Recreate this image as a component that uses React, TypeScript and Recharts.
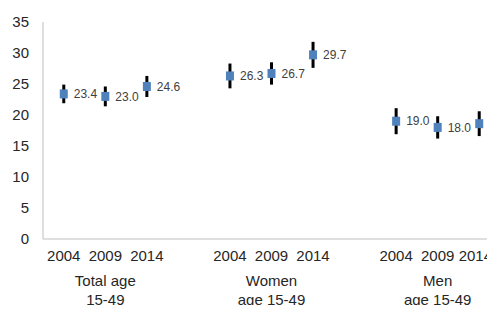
import { LineChart, Line, XAxis, YAxis, ErrorBar, LabelList } from 'recharts';

const years = ['2004', '2009', '2014', '', '2004', '2009', '2014', '', '2004', '2009', '2014'];
const values = [23.4, 23.0, 24.6, null, 26.3, 26.7, 29.7, null, 19.0, 18.0, 18.6];
const errors = [1.5, 1.6, 1.7, null, 2.0, 1.8, 2.1, null, 2.1, 1.8, 2.0];
const groupLabels: Record<number, string[]> = {
  1: ['Total age', '15-49'],
  5: ['Women', 'age 15-49'],
  9: ['Men', 'age 15-49'],
};
const yTicks = [0, 5, 10, 15, 20, 25, 30, 35];

const data = years.map((y, i) => ({ slot: i, year: y, value: values[i], err: errors[i] }));

const Square = (props: any) => {
  const { cx, cy, payload } = props;
  if (payload.value == null || cx == null || cy == null) return null;
  return <rect x={cx - 4} y={cy - 4.5} width={8} height={9} fill="#4F81BD" />;
};

const XTick = (props: any) => {
  const { x, y, payload } = props;
  const i = payload.value;
  const group = groupLabels[i];
  // keep the last year inside the picture, like the original does
  const tooFar = x + 17 > 490;
  return (
    <g>
      <text
        x={tooFar ? 492 : x}
        y={y + 14}
        textAnchor={tooFar ? 'end' : 'middle'}
        fontSize={15}
        fill="#262626"
      >
        {years[i]}
      </text>
      {group && (
        <text textAnchor="middle" fontSize={15} fill="#262626">
          <tspan x={x} y={y + 39}>{group[0]}</tspan>
          <tspan x={x} y={y + 58}>{group[1]}</tspan>
        </text>
      )}
    </g>
  );
};

export default function App() {
  return (
    <div style={{ width: 495, height: 313, overflow: 'hidden', margin: -8, background: '#fff', fontFamily: 'Liberation Sans, Arial, sans-serif' }}>
      <LineChart width={500} height={313} data={data} margin={{ top: 22, right: 0, bottom: 0, left: 0 }}>
        <XAxis
          dataKey="slot"
          type="category"
          scale="band"
          tick={<XTick />}
          tickLine={false}
          axisLine={{ stroke: '#bfbfbf' }}
          height={74}
          interval={0}
        />
        <YAxis
          domain={[0, 35]}
          ticks={yTicks}
          width={43}
          tickLine={false}
          tickMargin={8}
          axisLine={{ stroke: '#bfbfbf' }}
          tick={{ fill: '#262626', fontSize: 15 }}
        />
        <Line dataKey="value" stroke="none" dot={<Square />} activeDot={false} isAnimationActive={false}>
          <ErrorBar dataKey="err" width={0} stroke="#000" strokeWidth={3} />
          <LabelList
            dataKey="value"
            position="right"
            offset={10}
            fontSize={12}
            fill="#404040"
            formatter={(v: any) => (v == null ? '' : Number(v).toFixed(1))}
          />
        </Line>
      </LineChart>
    </div>
  );
}
